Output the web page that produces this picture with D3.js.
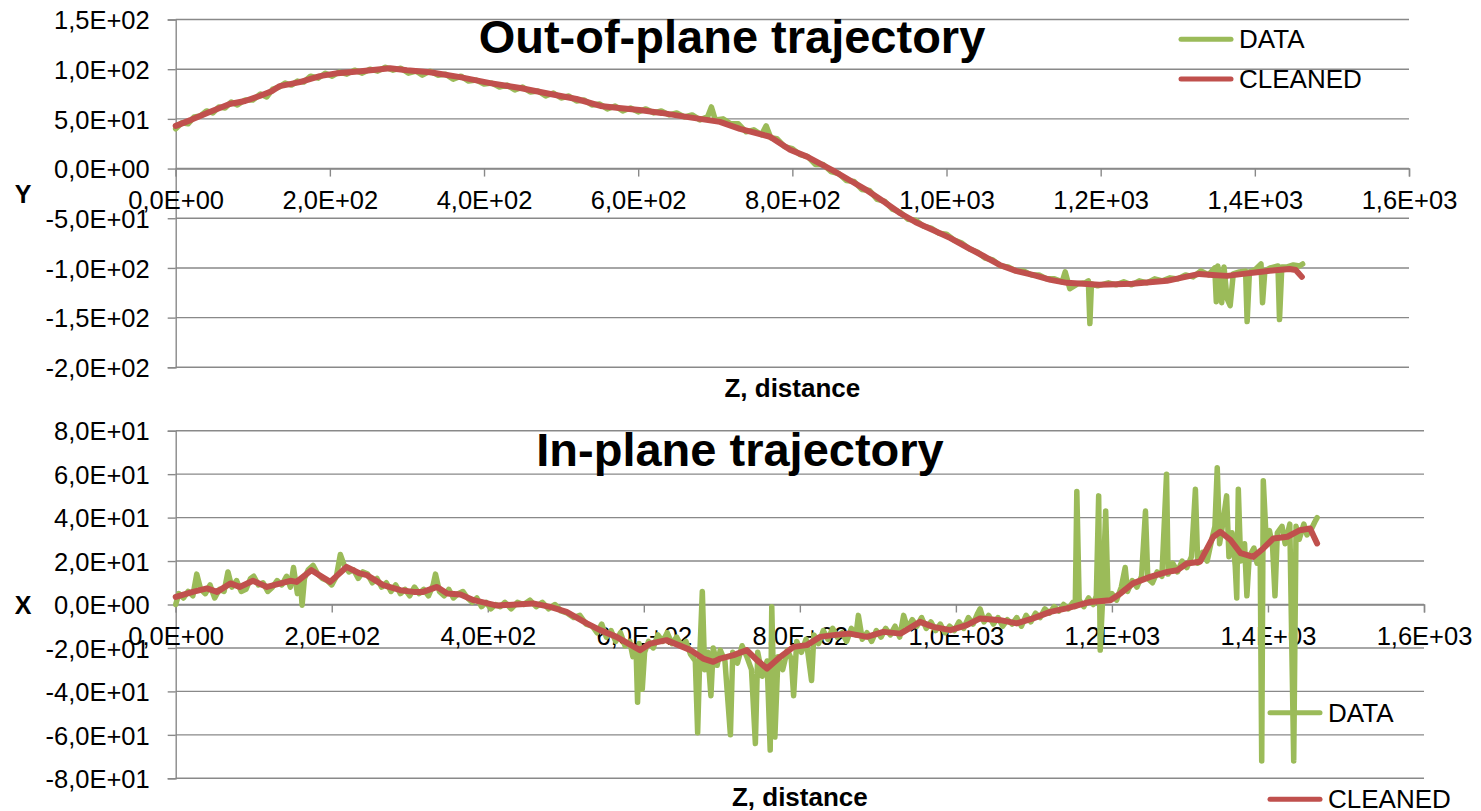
<!DOCTYPE html>
<html lang="en">
<head>
<meta charset="utf-8">
<title>Trajectory</title>
<style>
  body { margin: 0; background: #fff; }
  svg { display: block; font-family: "Liberation Sans", Arial, sans-serif; }
  .tick line, .domain { stroke: #898989; stroke-width: 1.4px; }
  .tick text { font-size: 25.5px; fill: #000; }
</style>
</head>
<body>
<svg id="chart" width="1481" height="811"></svg>

<script src="https://d3js.org/d3.v7.min.js"></script>
<script>
// ---- data: [Z, value] ----
const seriesNames = ["DATA", "CLEANED"];
const seriesColors = ["#9BBB59", "#C0504D"];
const zTicks = [0, 200, 400, 600, 800, 1000, 1200, 1400, 1600];
const yTicksTop = [150, 100, 50, 0, -50, -100, -150, -200];
const xTicksBottom = [80, 60, 40, 20, 0, -20, -40, -60, -80];

const topCleaned = [
  [0,43],[20,49],[44,57],[70,65],[90,68],[109,73],[125,78],[135,83],[161,87],[187,93],
  [210,96],[240,98],[278,101],[300,99],[330,97],[369,92],[408,86],[447,81],[486,75],[520,70],
  [551,63],[575,61],[602,59],[630,56],[654,53],[680,50],[706,47],[732,40],[771,32],[797,19],
  [819,12],[853,-2],[875,-12],[897,-22],[920,-34],[940,-45],[960,-54],[983,-62],[1005,-70],[1026,-79],
  [1048,-88],[1069,-97],[1090,-103],[1112,-107],[1135,-112],[1156,-115],[1198,-117],[1241,-116],[1286,-113],[1310,-109],
  [1328,-106],[1345,-107],[1364,-108],[1385,-106],[1406,-104],[1430,-102],[1445,-101],[1453,-102],[1461,-109]
];

const topData = [
  [0,40],[8,46],[16,45],[24,52],[32,53],[40,58],[48,56],[56,62],[64,61],[72,67],
  [80,64],[90,69],[100,69],[110,75],[118,72],[126,80],[134,82],[142,86],[150,84],[158,88],
  [166,87],[175,93],[185,91],[194,96],[203,93],[212,97],[222,95],[232,99],[242,96],[252,100],
  [262,98],[272,102],[282,99],[292,101],[302,96],[312,98],[320,94],[330,98],[340,94],[350,95],
  [360,90],[370,93],[380,88],[390,89],[400,85],[410,86],[420,82],[430,84],[440,79],[450,82],
  [460,77],[470,78],[480,73],[490,76],[500,71],[510,73],[520,68],[530,69],[540,64],[550,65],
  [560,60],[570,63],[580,58],[590,61],[600,57],[610,60],[620,56],[630,58],[640,54],[650,56],
  [660,52],[670,54],[680,49],[690,52],[695,62],[700,49],[710,50],[720,45],[730,45],[740,37],
  [750,39],[760,34],[766,43],[772,31],[780,30],[790,22],[800,20],[810,14],[820,12],[830,4],
  [840,4],[850,-3],[860,-5],[870,-12],[880,-13],[890,-21],[900,-22],[910,-31],[920,-33],[930,-41],
  [940,-44],[950,-51],[960,-52],[970,-58],[980,-60],[990,-65],[1000,-66],[1010,-72],[1020,-75],[1030,-81],
  [1040,-84],[1050,-90],[1060,-92],[1070,-98],[1080,-99],[1090,-103],[1100,-103],[1110,-107],[1120,-107],[1130,-111],
  [1140,-111],[1150,-114],[1154,-104],[1160,-121],[1170,-116],[1180,-115],[1184,-113],[1186,-156],[1188,-116],[1196,-118],
  [1210,-115],[1220,-117],[1230,-114],[1240,-117],[1250,-113],[1260,-115],[1270,-111],[1280,-113],[1290,-110],[1300,-111],
  [1310,-107],[1320,-109],[1330,-103],[1340,-107],[1348,-100],[1350,-134],[1352,-98],[1357,-135],[1360,-99],[1364,-131],
  [1368,-138],[1372,-106],[1380,-104],[1388,-103],[1390,-154],[1393,-104],[1400,-102],[1408,-96],[1410,-135],[1413,-103],
  [1420,-100],[1430,-98],[1432,-152],[1435,-99],[1442,-99],[1450,-97],[1458,-98],[1462,-96]
];

const bottomCleaned = [
  [0,3.5],[22,5.8],[40,7.4],[53,5.8],[70,9.7],[82,8.1],[99,10.9],[117,8.1],[147,10.9],[155,10.4],
  [174,15.8],[198,10.4],[219,17.3],[236,14.3],[245,13.5],[266,8.9],[288,6.6],[305,5.8],[317,5.8],[335,8.1],
  [348,5.1],[365,4.6],[382,2.0],[412,-0.5],[458,0.5],[480,-1.1],[501,-3.4],[527,-8.7],[544,-11.8],[565,-14.9],
  [595,-21],[608,-18],[629,-16.4],[660,-21],[676,-24.9],[689,-26.4],[698,-24.9],[715,-23.3],[732,-21],[745,-25.6],
  [758,-29.5],[775,-24.1],[792,-19.5],[809,-18.7],[826,-14.9],[843,-14.1],[864,-13.4],[886,-14.9],[907,-12.6],[929,-13.4],
  [954,-8],[971,-10.3],[993,-11.8],[1014,-9.5],[1031,-6.4],[1057,-7.2],[1078,-8.7],[1099,-6.4],[1121,-3.4],[1142,-1.8],
  [1172,1.2],[1198,2.0],[1211,5.1],[1227,9.7],[1249,12.7],[1271,15.0],[1284,15.8],[1296,18.9],[1313,19.7],[1330,31.2],
  [1339,33.5],[1352,29.7],[1365,23.6],[1381,21.9],[1394,25.8],[1407,30.4],[1425,31.2],[1441,34.2],[1454,35.0],[1463,28.1]
];

const bottomData = [
  [0,0],[4,5],[10,3],[16,6],[22,4],[27,14],[32,7],[38,5],[44,9],[50,3],
  [56,7],[62,6],[67,15],[72,8],[78,11],[84,6],[90,7],[96,12],[100,13],[106,9],
  [112,10],[118,6],[124,8],[130,11],[136,9],[142,13],[147,8],[151,17],[156,5],[160,10],
  [162,-0.3],[165,12],[170,16],[176,18],[182,14],[188,12],[194,11],[200,9],[206,13],[211,23],
  [216,18],[222,15],[228,16],[234,12],[240,15],[246,14],[252,10],[258,12],[264,8],[270,10],
  [276,6],[282,9],[288,5],[294,7],[300,4],[306,8],[312,5],[318,7],[324,4],[330,9],
  [333,14],[338,6],[344,4],[350,7],[356,3],[362,5],[368,6],[374,3],[380,1],[386,3],
  [392,-1],[398,1],[404,-2],[410,0],[416,-1],[422,1],[430,-2],[438,1],[446,0],[454,2],
  [462,-1],[470,1],[478,-2],[486,0],[494,-3],[502,-4],[510,-6],[518,-5],[526,-9],[534,-10],
  [540,-13],[546,-9],[552,-15],[558,-12],[564,-17],[570,-13],[576,-19],[582,-17],[586,-24],[590,-20],
  [592,-45],[594,-18],[598,-39],[601,-22],[606,-17],[612,-20],[618,-14],[624,-17],[630,-13],[636,-18],
  [642,-15],[648,-19],[654,-17],[660,-23],[666,-26],[669,-59],[672,-21],[675,6],[678,-30],[682,-22],
  [686,-42],[689,-20],[694,-28],[698,-21],[704,-26],[711,-60],[714,-22],[720,-27],[726,-19],[732,-24],
  [738,-30],[743,-64],[746,-22],[752,-33],[758,-26],[762,-67],[764,-1],[766,-32],[768,-61],[772,-24],
  [778,-30],[784,-21],[789,-25],[792,-42],[796,-17],[802,-22],[808,-16],[815,-35],[818,-14],[824,-18],
  [830,-12],[836,-16],[842,-11],[848,-15],[854,-13],[860,-17],[866,-11],[872,-14],[875,-5],[880,-16],
  [886,-13],[892,-17],[898,-12],[904,-15],[910,-11],[916,-14],[922,-10],[928,-15],[933,-5],[938,-11],
  [944,-7],[950,-10],[956,-6],[962,-11],[968,-8],[974,-12],[980,-9],[986,-13],[992,-10],[998,-12],
  [1004,-8],[1010,-11],[1016,-6],[1022,-9],[1028,-4],[1031,-2],[1036,-8],[1042,-5],[1048,-9],[1054,-6],
  [1060,-10],[1066,-7],[1072,-9],[1078,-6],[1084,-10],[1090,-5],[1096,-8],[1102,-4],[1108,-6],[1114,-2],
  [1120,-4],[1126,-1],[1132,-3],[1138,0],[1144,-2],[1150,1],[1153,-1],[1155,52],[1158,2],[1164,-1],
  [1170,3],[1176,0],[1180,4],[1183,50],[1185,-21],[1188,2],[1192,43],[1195,3],[1200,5],[1206,2],
  [1212,8],[1217,17],[1220,6],[1226,11],[1232,8],[1238,13],[1243,43],[1246,12],[1252,10],[1258,15],
  [1264,13],[1270,60],[1272,14],[1278,19],[1284,15],[1290,20],[1296,17],[1302,22],[1307,53],[1310,19],
  [1316,24],[1322,20],[1328,30],[1332,36],[1335,63],[1338,28],[1342,37],[1347,50],[1350,22],[1354,33],
  [1358,18],[1360,3],[1362,53],[1365,20],[1370,28],[1373,4],[1376,22],[1382,26],[1386,19],[1390,24],
  [1392,-72],[1394,57],[1398,28],[1402,34],[1406,26],[1409,4],[1412,33],[1418,36],[1422,28],[1428,37],
  [1433,-72],[1436,36],[1440,30],[1446,37],[1450,32],[1456,35],[1460,38],[1463,40]
];

// "1,5E+02" style labels
function fmtE(v) {
  if (v === 0) return "0,0E+00";
  const [m, e] = Math.abs(v).toExponential(1).split("e");
  const n = parseInt(e, 10);
  const es = (n < 0 ? "-" : "+") + String(Math.abs(n)).padStart(2, "0");
  return (v < 0 ? "-" : "") + m.replace(".", ",") + "E" + es;
}

const svg = d3.select("#chart");

function drawPanel(p) {
  const x = d3.scaleLinear().domain([0, 1600]).range([p.left, p.right]);
  const y = d3.scaleLinear().domain(p.yDomain).range([p.bottom, p.top]);
  const g = svg.append("g");

  // horizontal gridlines
  g.append("g").selectAll("line").data(p.yTicks).join("line")
    .attr("x1", p.left).attr("x2", p.right)
    .attr("y1", d => y(d)).attr("y2", d => y(d))
    .attr("stroke", "#898989").attr("stroke-width", 1.4);

  // value axis
  const ya = g.append("g").attr("transform", `translate(${p.left},0)`)
    .call(d3.axisLeft(y).tickValues(p.yTicks).tickFormat(fmtE).tickSize(8).tickPadding(18));
  ya.selectAll(".tick text").attr("dy", "0.36em");

  // Z axis, crossing at 0
  g.append("g").attr("transform", `translate(0,${y(0)})`)
    .call(d3.axisBottom(x).tickValues(zTicks).tickFormat(fmtE).tickSizeInner(8).tickSizeOuter(8).tickPadding(14));

  // series
  const line = d3.line().x(d => x(d[0])).y(d => y(d[1]));
  [p.data, p.cleaned].forEach((s, i) => {
    g.append("path").datum(s)
      .attr("d", line)
      .attr("fill", "none")
      .attr("stroke", seriesColors[i])
      .attr("stroke-width", i === 0 ? 5.5 : 6)
      .attr("stroke-linejoin", "round")
      .attr("stroke-linecap", "round");
  });

  // titles
  g.append("text").attr("x", p.titleX).attr("y", p.titleY)
    .attr("text-anchor", "middle").attr("font-size", 47).attr("font-weight", "bold")
    .text(p.title);
  g.append("text").attr("x", (p.left + p.right) / 2).attr("y", p.zTitleY)
    .attr("text-anchor", "middle").attr("font-size", 26).attr("font-weight", "bold")
    .text("Z, distance");
  g.append("text").attr("x", 23).attr("y", p.axisNameY)
    .attr("text-anchor", "middle").attr("font-size", 25).attr("font-weight", "bold")
    .text(p.axisName);

  // legend
  p.legend.forEach((ly, i) => {
    g.append("line")
      .attr("x1", p.legendX).attr("x2", p.legendX + 50)
      .attr("y1", ly).attr("y2", ly)
      .attr("stroke", seriesColors[i]).attr("stroke-width", 5).attr("stroke-linecap", "round");
    g.append("text").attr("x", p.legendX + 58).attr("y", ly + 9)
      .attr("font-size", 26).text(seriesNames[i]);
  });
}

drawPanel({
  left: 175.7, right: 1409, top: 19.5, bottom: 367.3,
  yDomain: [-200, 150], yTicks: yTicksTop,
  data: topData, cleaned: topCleaned,
  title: "Out-of-plane trajectory", titleX: 732, titleY: 53,
  zTitleY: 397, axisName: "Y", axisNameY: 203,
  legendX: 1181, legend: [39.3, 79]
});

drawPanel({
  left: 175.7, right: 1424, top: 430.7, bottom: 778.3,
  yDomain: [-80, 80], yTicks: xTicksBottom,
  data: bottomData, cleaned: bottomCleaned,
  title: "In-plane trajectory", titleX: 740, titleY: 466,
  zTitleY: 806, axisName: "X", axisNameY: 614,
  legendX: 1270, legend: [712.7, 799.3]
});
</script>
</body>
</html>
